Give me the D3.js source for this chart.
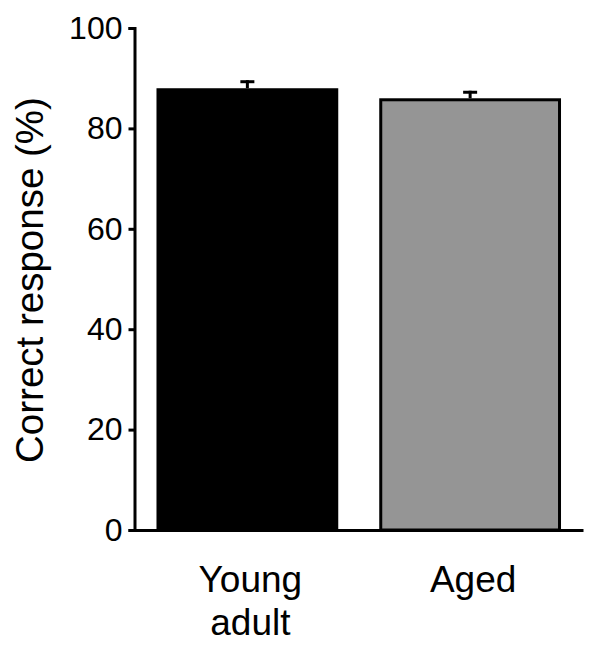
<!DOCTYPE html>
<html>
<head>
<meta charset="utf-8">
<script src="https://cdn.jsdelivr.net/npm/d3@7"></script>
<style>
  html, body { margin: 0; padding: 0; background: #fff; }
  svg { display: block; }
  text { font-family: Arial, "Liberation Sans", sans-serif; fill: #000; }
</style>
</head>
<body>
<svg id="chart" width="601" height="654"></svg>
<script>
const categories = ["Young adult", "Aged"];
const labelLines = [["Young", "adult"], ["Aged"]];
const values = [88.0, 86.0];
const sems = [1.6, 1.5];
const fills = ["#000000", "#959595"];
const yTicks = [0, 20, 40, 60, 80, 100];

const svg = d3.select("#chart");

const y = d3.scaleLinear().domain([0, 100]).range([530, 28]);
const x = d3.scaleBand().domain(categories).range([134.5, 583])
  .paddingInner(0.184).paddingOuter(0.0987);

// bars
const sw = 3;
svg.append("g").selectAll("rect").data(categories).join("rect")
  .attr("x", (d) => x(d) + sw / 2)
  .attr("width", x.bandwidth() - sw)
  .attr("y", (d, i) => y(values[i]) + sw / 2)
  .attr("height", (d, i) => y(0) - y(values[i]) - sw / 2)
  .attr("fill", (d, i) => fills[i])
  .attr("stroke", "#000")
  .attr("stroke-width", sw);

// error bars (upper)
const eg = svg.append("g").attr("stroke", "#000").attr("stroke-width", 3);
categories.forEach((c, i) => {
  const cx = x(c) + x.bandwidth() / 2;
  eg.append("line").attr("x1", cx).attr("x2", cx)
    .attr("y1", y(values[i])).attr("y2", y(values[i] + sems[i]));
  eg.append("line").attr("x1", cx - 7).attr("x2", cx + 7)
    .attr("y1", y(values[i] + sems[i]) + 1.5).attr("y2", y(values[i] + sems[i]) + 1.5);
});

// y axis
const yAxis = svg.append("g").attr("transform", "translate(134.5,0)")
  .call(d3.axisLeft(y).tickValues(yTicks).tickSize(6).tickPadding(6));
yAxis.select(".domain").attr("stroke-width", 3);
yAxis.selectAll(".tick line").attr("stroke-width", 3);
yAxis.selectAll(".tick text").attr("font-size", 32).attr("fill", "#000")
  .style("font-family", "Arial, 'Liberation Sans', sans-serif");

// x axis
const xAxis = svg.append("g").attr("transform", "translate(0,530)")
  .call(d3.axisBottom(x).tickSize(0).tickSizeOuter(0).tickFormat(""));
xAxis.select(".domain").attr("stroke-width", 3);

// x labels
categories.forEach((c, i) => {
  const cx = x(c) + x.bandwidth() / 2 + 3;
  const t = svg.append("text").attr("text-anchor", "middle").attr("font-size", 37);
  labelLines[i].forEach((line, k) => {
    t.append("tspan").attr("x", cx).attr("y", 592 + k * 43).text(line);
  });
});

// y label
svg.append("text")
  .attr("transform", "translate(43,280) rotate(-90)")
  .attr("text-anchor", "middle")
  .attr("font-size", 38.5)
  .text("Correct response (%)");
</script>
</body>
</html>
